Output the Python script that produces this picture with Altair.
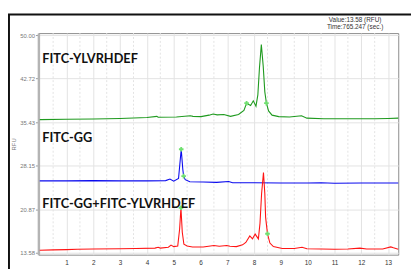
import altair as alt
import pandas as pd

# ---- data ----
green_x = [0.0, 1.0, 2.0, 3.0, 4.0, 4.37, 4.42, 5.1, 5.62, 5.72, 6.02, 6.32, 6.47, 6.62, 6.87, 7.12,
           7.42, 7.62, 7.72, 7.87, 7.97, 8.07, 8.14, 8.2, 8.27, 8.34, 8.4, 8.46, 8.54, 8.67, 8.92, 9.32,
           9.77, 9.97, 10.6, 11.5, 12.5, 13.0, 13.38]
green_y = [35.85, 35.9, 35.95, 36.05, 36.2, 36.4, 36.25, 36.3, 36.5, 36.4, 36.35, 36.6, 36.8, 36.65,
           36.7, 36.4, 36.7, 37.4, 38.6, 38.2, 39.0, 38.1, 40.0, 44.5, 48.4, 44.8, 40.5, 38.6, 37.3,
           36.6, 36.35, 36.3, 36.5, 36.1, 36.0, 36.0, 36.0, 36.05, 36.1]

blue_x = [0.0, 1.0, 2.0, 3.0, 4.0, 4.7, 4.86, 5.0, 5.18, 5.28, 5.34, 5.37, 5.43, 5.6, 6.1, 6.6, 7.05,
          7.2, 8.0, 9.0, 10.0, 10.5, 11.0, 12.0, 13.0, 13.38]
blue_y = [25.6, 25.6, 25.65, 25.6, 25.6, 25.65, 25.9, 25.55, 26.0, 30.9, 27.5, 26.4, 25.8, 25.45, 25.4,
          25.35, 25.5, 25.3, 25.3, 25.25, 25.25, 25.3, 25.2, 25.25, 25.25, 25.25]

red_x = [0.0, 0.5, 1.0, 1.4, 2.0, 3.0, 3.6, 4.3, 4.42, 4.5, 4.8, 4.9, 5.0, 5.15, 5.22, 5.27, 5.32, 5.38,
         5.5, 5.7, 6.1, 6.5, 6.7, 6.98, 7.1, 7.34, 7.57, 7.69, 7.84, 7.94, 8.04, 8.16, 8.22, 8.28, 8.35,
         8.4, 8.43, 8.5, 8.59, 8.72, 9.05, 9.5, 9.79, 9.97, 10.5, 11.0, 11.5, 11.95, 12.2, 12.8, 13.1,
         13.2, 13.38]
red_y = [14.0, 14.05, 14.1, 14.15, 14.2, 14.25, 14.3, 14.35, 14.5, 14.35, 14.5, 14.85, 14.6, 14.7, 17.5,
         21.1, 17.0, 15.0, 14.7, 14.55, 14.55, 14.8, 14.65, 14.8, 14.65, 14.6, 14.9, 15.3, 16.4, 15.9,
         16.7, 15.9, 18.5, 23.5, 27.0, 23.5, 19.5, 16.75, 15.2, 14.6, 14.3, 14.3, 14.5, 14.25, 14.2,
         14.15, 14.2, 14.35, 14.2, 14.2, 14.55, 14.4, 14.15]

marker_x = [7.72, 8.46, 5.28, 5.37, 5.27, 8.5]
marker_y = [38.6, 38.6, 30.9, 26.4, 21.1, 16.75]

series_names = ["FITC-YLVRHDEF", "FITC-GG", "FITC-GG+FITC-YLVRHDEF"]
series_colors = ["#1f9a1f", "#0a0aee", "#ff1414"]

y_ticks = [13.58, 20.87, 28.15, 35.43, 42.72, 50.00]
x_ticks = list(range(1, 14))
half_grid = [i + 0.5 for i in range(0, 13)]

value_text = "Value:13.58 (RFU)"
time_text = "Time:765.247 (sec.)"

# ---- build tables ----
rows = []
for name, xs, ys in zip(series_names, [green_x, blue_x, red_x], [green_y, blue_y, red_y]):
    for i, (a, b) in enumerate(zip(xs, ys)):
        rows.append({"series": name, "t": a, "rfu": b, "order": i})
lines_df = pd.DataFrame(rows)
markers_df = pd.DataFrame({"t": marker_x, "rfu": marker_y})
half_df = pd.DataFrame({"t": half_grid})

xscale = alt.Scale(domain=[-0.05, 13.38], nice=False, zero=False)
yscale = alt.Scale(domain=[13.25, 50.33], nice=False, zero=False)

x_axis = alt.Axis(values=x_ticks, title=None, format="d", grid=True, gridColor="#e2e2e2",
                  gridWidth=1, ticks=False, domain=False, labelFontSize=6.5,
                  labelColor="#333333", labelPadding=5, labelFont="Liberation Sans",
                  labelOverlap=False)
y_axis = alt.Axis(values=y_ticks, format=".2f", title="RFU", titleFontSize=6,
                  titleColor="#777777", titleFontWeight="normal", titlePadding=3,
                  titleFont="Liberation Sans",
                  grid=True, gridColor="#e2e2e2", gridWidth=1, tickSize=3,
                  tickColor="#999999", domainColor="#b4b4b4", domainWidth=2.5,
                  labelFontSize=6, labelColor="#777777", labelPadding=1,
                  labelFont="Liberation Sans", labelOverlap=False)

X = alt.X("t:Q", scale=xscale, axis=x_axis)
Y = alt.Y("rfu:Q", scale=yscale, axis=y_axis)

lines = alt.Chart(lines_df).mark_line(strokeWidth=1.1).encode(
    x=X,
    y=Y,
    color=alt.Color("series:N", scale=alt.Scale(domain=series_names, range=series_colors), legend=None),
    order="order:Q",
)

half_rules = alt.Chart(half_df).mark_rule(color="#e2e2e2", strokeDash=[2, 2], strokeWidth=1).encode(
    x=X
)

markers = alt.Chart(markers_df).mark_point(shape="cross", filled=True, size=22, color="#6fe06f",
                                           opacity=1).encode(x=X, y=Y)

layers = [half_rules, lines, markers]

for name, py in zip(series_names, [26, 107, 174]):
    layers.append(
        alt.Chart(pd.DataFrame({"label": [name]})).mark_text(
            align="left", baseline="middle", font="Lato", fontWeight="bold", fontSize=13,
            color="#111111").encode(x=alt.value(4), y=alt.value(py), text="label:N")
    )

for txt, py in zip([value_text, time_text], [-13.5, -6]):
    layers.append(
        alt.Chart(pd.DataFrame({"label": [txt]})).mark_text(
            align="center", baseline="middle", font="Liberation Sans", fontSize=6.5,
            color="#333333").encode(x=alt.value(323), y=alt.value(py), text="label:N")
    )

frame_df = pd.DataFrame({"k": [0]})
layers.append(alt.Chart(frame_df).mark_rule(color="#111111", strokeWidth=2).encode(
    x=alt.value(-30), y=alt.value(-19), y2=alt.value(260)))
layers.append(alt.Chart(frame_df).mark_rule(color="#111111", strokeWidth=2).encode(
    x=alt.value(-31), x2=alt.value(400), y=alt.value(-19)))

chart = alt.layer(*layers).properties(
    width=367, height=226,
    padding={"left": 31, "top": 23, "right": 13, "bottom": 12},
    autosize=alt.AutoSizeParams(type="none"),
    background="white",
).configure_view(stroke="#8c8c8c", strokeWidth=1)

chart.save("out.html", embed_options={"renderer": "svg", "actions": False})
